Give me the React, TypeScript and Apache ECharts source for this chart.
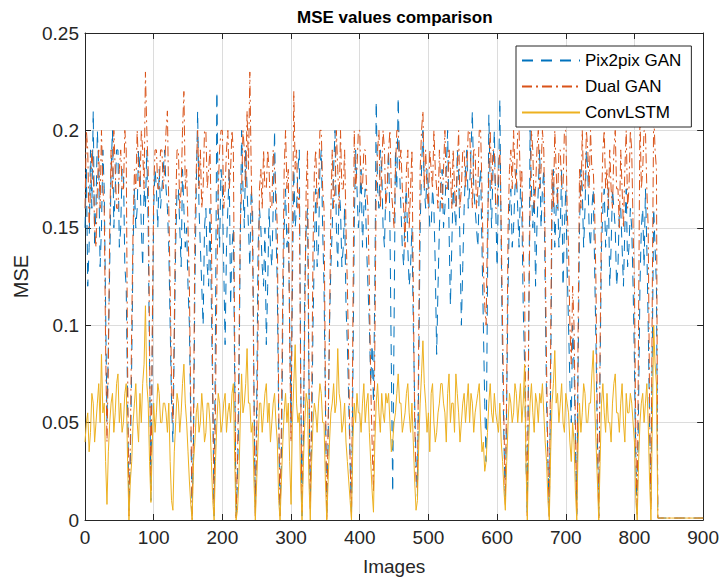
import React, { useEffect, useRef } from "react";
import * as echarts from "echarts";

// Sampled every STEP images (0, 2, 4, ... 900)
const STEP = 2;
const seriesNames = ["Pix2pix GAN", "Dual GAN", "ConvLSTM"];
const xTickMax = 900;
const yTickMax = 0.25;

const pix2pix = [
  0.15, 0.18, 0.12, 0.14, 0.19, 0.16, 0.21, 0.14, 0.16, 0.2, 0.18, 0.13, 0.15, 0.19, 0.17, 0.11, 0.05, 0.09, 0.13, 0.18,
  0.2, 0.15, 0.17, 0.19, 0.19, 0.14, 0.15, 0.18, 0.18, 0.13, 0.12, 0.06, 0.005, 0.03, 0.08, 0.14, 0.17, 0.15, 0.16, 0.19,
  0.18, 0.15, 0.13, 0.17, 0.16, 0.19, 0.15, 0.08, 0.01, 0.09, 0.16, 0.18, 0.17, 0.15, 0.18, 0.16, 0.17, 0.18, 0.19, 0.17,
  0.16, 0.14, 0.1, 0.06, 0.04, 0.09, 0.14, 0.17, 0.17, 0.15, 0.13, 0.18, 0.16, 0.14, 0.15, 0.12, 0.1, 0.05, 0.003, 0.04,
  0.12, 0.17, 0.21, 0.16, 0.14, 0.12, 0.1, 0.15, 0.16, 0.13, 0.12, 0.16, 0.11, 0.06, 0.002, 0.1, 0.22, 0.16, 0.14, 0.18,
  0.17, 0.13, 0.09, 0.14, 0.16, 0.18, 0.11, 0.14, 0.15, 0.07, 0.002, 0.02, 0.06, 0.14, 0.2, 0.17, 0.15, 0.19, 0.17, 0.15,
  0.13, 0.17, 0.16, 0.07, 0.003, 0.06, 0.14, 0.16, 0.15, 0.13, 0.12, 0.15, 0.09, 0.12, 0.16, 0.14, 0.13, 0.16, 0.2, 0.15,
  0.12, 0.05, 0.003, 0.03, 0.1, 0.15, 0.17, 0.14, 0.15, 0.1, 0.05, 0.12, 0.18, 0.15, 0.16, 0.18, 0.19, 0.08, 0.002, 0.04,
  0.12, 0.15, 0.16, 0.07, 0.01, 0.04, 0.1, 0.14, 0.17, 0.13, 0.14, 0.18, 0.19, 0.15, 0.12, 0.06, 0.002, 0.04, 0.1, 0.13,
  0.15, 0.18, 0.2, 0.15, 0.13, 0.17, 0.16, 0.13, 0.14, 0.16, 0.11, 0.09, 0.06, 0.03, 0.002, 0.07, 0.15, 0.19, 0.17, 0.15,
  0.16, 0.18, 0.14, 0.16, 0.17, 0.14, 0.12, 0.1, 0.07, 0.09, 0.06, 0.12, 0.215, 0.17, 0.16, 0.19, 0.18, 0.15, 0.14, 0.17,
  0.17, 0.19, 0.15, 0.08, 0.014, 0.1, 0.19, 0.17, 0.217, 0.18, 0.16, 0.14, 0.13, 0.16, 0.17, 0.14, 0.12, 0.13, 0.15, 0.1,
  0.06, 0.03, 0.012, 0.08, 0.15, 0.18, 0.2, 0.17, 0.16, 0.18, 0.17, 0.15, 0.15, 0.17, 0.16, 0.13, 0.085, 0.12, 0.15, 0.17,
  0.18, 0.15, 0.16, 0.18, 0.2, 0.15, 0.11, 0.14, 0.17, 0.16, 0.15, 0.19, 0.18, 0.14, 0.1, 0.13, 0.16, 0.18, 0.19, 0.16,
  0.17, 0.19, 0.21, 0.17, 0.16, 0.15, 0.14, 0.17, 0.18, 0.14, 0.1, 0.06, 0.03, 0.12, 0.208, 0.17, 0.15, 0.18, 0.2, 0.16,
  0.13, 0.17, 0.216, 0.14, 0.08, 0.04, 0.01, 0.06, 0.12, 0.16, 0.17, 0.14, 0.15, 0.17, 0.18, 0.16, 0.14, 0.17, 0.16, 0.11,
  0.08, 0.03, 0.002, 0.09, 0.2, 0.17, 0.15, 0.17, 0.12, 0.15, 0.17, 0.19, 0.15, 0.17, 0.18, 0.12, 0.06, 0.03, 0.002, 0.07,
  0.16, 0.18, 0.14, 0.16, 0.17, 0.14, 0.15, 0.18, 0.12, 0.15, 0.17, 0.13, 0.1, 0.07, 0.05, 0.1, 0.08, 0.04, 0.003, 0.08,
  0.15, 0.18, 0.17, 0.14, 0.16, 0.19, 0.18, 0.15, 0.14, 0.16, 0.17, 0.13, 0.09, 0.04, 0.002, 0.08, 0.14, 0.16, 0.17, 0.14,
  0.15, 0.17, 0.12, 0.14, 0.17, 0.16, 0.15, 0.12, 0.13, 0.16, 0.16, 0.14, 0.12, 0.15, 0.17, 0.13, 0.14, 0.16, 0.15, 0.12,
  0.08, 0.03, 0.002, 0.06, 0.12, 0.15, 0.16, 0.13, 0.17, 0.14, 0.1, 0.05, 0.01, 0.09, 0.16, 0.14, 0.12, 0.001,
  0.001, 0.001, 0.001, 0.001, 0.001, 0.001, 0.001, 0.001, 0.001, 0.001, 0.001, 0.001, 0.001, 0.001, 0.001, 0.001, 0.001,
  0.001, 0.001, 0.001, 0.001, 0.001, 0.001, 0.001, 0.001, 0.001, 0.001, 0.001, 0.001, 0.001, 0.001, 0.001, 0.001,
];

const dualGan = [
  0.16, 0.2, 0.19, 0.15, 0.17, 0.19, 0.18, 0.15, 0.14, 0.17, 0.19, 0.16, 0.2, 0.17, 0.16, 0.09, 0.04, 0.08, 0.15, 0.19,
  0.17, 0.2, 0.18, 0.16, 0.16, 0.18, 0.19, 0.17, 0.17, 0.2, 0.19, 0.08, 0.002, 0.04, 0.1, 0.15, 0.18, 0.17, 0.2, 0.18,
  0.17, 0.2, 0.19, 0.17, 0.23, 0.2, 0.18, 0.09, 0.015, 0.1, 0.17, 0.19, 0.19, 0.17, 0.17, 0.19, 0.19, 0.17, 0.18, 0.2,
  0.21, 0.16, 0.12, 0.07, 0.05, 0.1, 0.16, 0.19, 0.19, 0.16, 0.17, 0.2, 0.22, 0.17, 0.18, 0.15, 0.12, 0.06, 0.0, 0.05,
  0.15, 0.18, 0.2, 0.17, 0.19, 0.16, 0.17, 0.2, 0.2, 0.17, 0.18, 0.19, 0.15, 0.07, 0.003, 0.06, 0.12, 0.17, 0.19, 0.2,
  0.2, 0.16, 0.17, 0.19, 0.2, 0.17, 0.18, 0.2, 0.19, 0.09, 0.001, 0.03, 0.08, 0.15, 0.17, 0.2, 0.19, 0.17, 0.21, 0.18,
  0.23, 0.18, 0.14, 0.06, 0.001, 0.04, 0.1, 0.17, 0.18, 0.16, 0.19, 0.17, 0.17, 0.19, 0.18, 0.16, 0.16, 0.19, 0.18, 0.17,
  0.15, 0.06, 0.002, 0.05, 0.12, 0.18, 0.2, 0.17, 0.18, 0.09, 0.04, 0.14, 0.22, 0.18, 0.19, 0.16, 0.17, 0.07, 0.004, 0.05,
  0.1, 0.17, 0.19, 0.08, 0.005, 0.06, 0.14, 0.18, 0.19, 0.16, 0.17, 0.2, 0.2, 0.17, 0.16, 0.07, 0.0, 0.05, 0.1, 0.16,
  0.19, 0.16, 0.17, 0.2, 0.18, 0.16, 0.2, 0.17, 0.17, 0.19, 0.15, 0.12, 0.08, 0.03, 0.001, 0.1, 0.2, 0.17, 0.18, 0.2,
  0.2, 0.17, 0.17, 0.19, 0.19, 0.17, 0.16, 0.12, 0.07, 0.04, 0.014, 0.09, 0.17, 0.19, 0.2, 0.16, 0.18, 0.2, 0.19, 0.16,
  0.17, 0.19, 0.2, 0.17, 0.16, 0.15, 0.18, 0.2, 0.2, 0.18, 0.19, 0.17, 0.16, 0.14, 0.18, 0.19, 0.15, 0.17, 0.19, 0.12,
  0.05, 0.02, 0.015, 0.1, 0.18, 0.2, 0.21, 0.17, 0.19, 0.17, 0.16, 0.19, 0.18, 0.17, 0.2, 0.18, 0.17, 0.16, 0.19, 0.17,
  0.16, 0.18, 0.2, 0.17, 0.17, 0.19, 0.18, 0.16, 0.19, 0.17, 0.16, 0.18, 0.2, 0.16, 0.17, 0.19, 0.19, 0.17, 0.18, 0.2,
  0.2, 0.18, 0.16, 0.19, 0.19, 0.16, 0.17, 0.2, 0.2, 0.17, 0.13, 0.11, 0.1, 0.15, 0.18, 0.2, 0.17, 0.19, 0.19, 0.16,
  0.16, 0.18, 0.19, 0.15, 0.1, 0.05, 0.008, 0.07, 0.15, 0.18, 0.19, 0.17, 0.2, 0.18, 0.17, 0.2, 0.2, 0.17, 0.18, 0.14,
  0.12, 0.04, 0.002, 0.1, 0.16, 0.2, 0.19, 0.16, 0.17, 0.19, 0.2, 0.17, 0.18, 0.2, 0.19, 0.14, 0.08, 0.03, 0.001, 0.09,
  0.18, 0.16, 0.2, 0.18, 0.16, 0.19, 0.19, 0.17, 0.17, 0.2, 0.2, 0.16, 0.14, 0.1, 0.08, 0.12, 0.1, 0.05, 0.002, 0.1,
  0.18, 0.16, 0.2, 0.17, 0.17, 0.2, 0.19, 0.17, 0.2, 0.18, 0.18, 0.16, 0.12, 0.05, 0.001, 0.09, 0.16, 0.19, 0.2, 0.17,
  0.18, 0.16, 0.19, 0.17, 0.16, 0.19, 0.2, 0.17, 0.17, 0.15, 0.19, 0.17, 0.15, 0.18, 0.2, 0.16, 0.17, 0.2, 0.19, 0.15,
  0.12, 0.04, 0.003, 0.1, 0.21, 0.17, 0.18, 0.2, 0.2, 0.17, 0.15, 0.06, 0.005, 0.12, 0.21, 0.19, 0.18, 0.001,
  0.001, 0.001, 0.001, 0.001, 0.001, 0.001, 0.001, 0.001, 0.001, 0.001, 0.001, 0.001, 0.001, 0.001, 0.001, 0.001, 0.001,
  0.001, 0.001, 0.001, 0.001, 0.001, 0.001, 0.001, 0.001, 0.001, 0.001, 0.001, 0.001, 0.001, 0.001, 0.001, 0.001,
];

const convLstm = [
  0.04, 0.05, 0.055, 0.035, 0.045, 0.065, 0.06, 0.04, 0.05, 0.06, 0.07, 0.05, 0.085, 0.055, 0.06, 0.03, 0.008, 0.035, 0.05, 0.06,
  0.065, 0.045, 0.055, 0.07, 0.075, 0.05, 0.06, 0.045, 0.05, 0.065, 0.07, 0.03, 0.0, 0.02, 0.03, 0.05, 0.06, 0.07, 0.05, 0.04,
  0.065, 0.05, 0.07, 0.08, 0.11, 0.07, 0.06, 0.03, 0.009, 0.04, 0.06, 0.045, 0.055, 0.07, 0.065, 0.05, 0.05, 0.06, 0.06, 0.055,
  0.045, 0.06, 0.03, 0.01, 0.005, 0.035, 0.05, 0.065, 0.06, 0.045, 0.055, 0.07, 0.08, 0.06, 0.05, 0.035, 0.02, 0.008, 0.0, 0.03,
  0.04, 0.055, 0.06, 0.045, 0.05, 0.065, 0.055, 0.04, 0.045, 0.06, 0.06, 0.05, 0.03, 0.01, 0.0, 0.03, 0.05, 0.065, 0.06, 0.045,
  0.05, 0.06, 0.065, 0.045, 0.055, 0.06, 0.05, 0.065, 0.07, 0.03, 0.0, 0.005, 0.02, 0.05, 0.075, 0.055, 0.06, 0.07, 0.088, 0.06,
  0.06, 0.045, 0.05, 0.02, 0.0, 0.02, 0.04, 0.06, 0.06, 0.045, 0.055, 0.065, 0.07, 0.05, 0.06, 0.04, 0.05, 0.06, 0.065, 0.05,
  0.04, 0.01, 0.0, 0.02, 0.04, 0.055, 0.065, 0.05, 0.06, 0.03, 0.008, 0.05, 0.07, 0.09, 0.06, 0.05, 0.055, 0.02, 0.0, 0.03,
  0.05, 0.065, 0.06, 0.02, 0.0, 0.03, 0.05, 0.06, 0.055, 0.045, 0.06, 0.07, 0.065, 0.05, 0.05, 0.02, 0.0, 0.02, 0.04, 0.055,
  0.06, 0.07, 0.055, 0.06, 0.088, 0.065, 0.06, 0.045, 0.05, 0.06, 0.04, 0.03, 0.02, 0.01, 0.0, 0.04, 0.06, 0.05, 0.065, 0.055,
  0.055, 0.045, 0.06, 0.07, 0.05, 0.06, 0.065, 0.045, 0.03, 0.015, 0.004, 0.04, 0.06, 0.07, 0.055, 0.045, 0.065, 0.055, 0.05, 0.065,
  0.06, 0.065, 0.05, 0.035, 0.04, 0.05, 0.055, 0.065, 0.075, 0.06, 0.06, 0.045, 0.05, 0.055, 0.065, 0.07, 0.055, 0.045, 0.06, 0.04,
  0.02, 0.005, 0.01, 0.04, 0.06, 0.075, 0.092, 0.07, 0.06, 0.045, 0.055, 0.035, 0.065, 0.07, 0.05, 0.04, 0.045, 0.055, 0.06, 0.07,
  0.07, 0.06, 0.055, 0.04, 0.065, 0.075, 0.05, 0.06, 0.06, 0.045, 0.075, 0.065, 0.055, 0.04, 0.05, 0.06, 0.065, 0.05, 0.06, 0.07,
  0.05, 0.065, 0.06, 0.045, 0.055, 0.06, 0.065, 0.07, 0.05, 0.035, 0.04, 0.025, 0.03, 0.045, 0.06, 0.07, 0.055, 0.05, 0.065, 0.055,
  0.05, 0.045, 0.06, 0.04, 0.03, 0.015, 0.005, 0.03, 0.05, 0.065, 0.06, 0.05, 0.055, 0.07, 0.065, 0.05, 0.06, 0.07, 0.05, 0.06,
  0.08, 0.03, 0.0, 0.04, 0.06, 0.07, 0.055, 0.045, 0.065, 0.06, 0.05, 0.065, 0.06, 0.07, 0.055, 0.04, 0.03, 0.01, 0.0, 0.035,
  0.06, 0.07, 0.087, 0.06, 0.065, 0.05, 0.06, 0.07, 0.05, 0.045, 0.065, 0.06, 0.055, 0.04, 0.03, 0.05, 0.04, 0.015, 0.0, 0.04,
  0.06, 0.045, 0.055, 0.07, 0.065, 0.05, 0.05, 0.06, 0.06, 0.075, 0.087, 0.06, 0.04, 0.02, 0.0, 0.03, 0.06, 0.07, 0.055, 0.045,
  0.065, 0.05, 0.05, 0.04, 0.06, 0.07, 0.075, 0.055, 0.055, 0.045, 0.06, 0.07, 0.05, 0.04, 0.065, 0.055, 0.055, 0.065, 0.06, 0.05,
  0.04, 0.01, 0.0, 0.03, 0.05, 0.06, 0.065, 0.05, 0.06, 0.07, 0.05, 0.02, 0.0, 0.05, 0.1, 0.08, 0.07, 0.001,
  0.001, 0.001, 0.001, 0.001, 0.001, 0.001, 0.001, 0.001, 0.001, 0.001, 0.001, 0.001, 0.001, 0.001, 0.001, 0.001, 0.001,
  0.001, 0.001, 0.001, 0.001, 0.001, 0.001, 0.001, 0.001, 0.001, 0.001, 0.001, 0.001, 0.001, 0.001, 0.001, 0.001,
];

const colors = ["#0072BD", "#D95319", "#EDB120"];
const dashes: any[] = [[11, 8], [10, 4, 2, 4], "solid"];
const FONT = "'Liberation Sans', Arial, Helvetica, sans-serif";
const AX = "#262626";

export default function App() {
  const ref = useRef<HTMLDivElement>(null);
  useEffect(() => {
    if (!ref.current) return;
    const chart = echarts.init(ref.current, null, { renderer: "svg" });
    const toPairs = (vals: number[]) => vals.map((v, i) => [i * STEP, v]);
    const allSeries = [pix2pix, dualGan, convLstm];
    const frameAxis = {
      axisLine: { show: true, onZero: false, lineStyle: { color: AX, width: 1 } },
      axisTick: { show: true, inside: true, length: 6, lineStyle: { color: AX } },
      axisLabel: { show: false },
      splitLine: { show: false },
    };
    chart.setOption({
      animation: false,
      backgroundColor: "#ffffff",
      textStyle: { fontFamily: FONT },
      title: {
        text: "MSE values comparison",
        left: 292,
        top: 4,
        textStyle: { fontSize: 17, fontWeight: "bold", color: "#000", fontFamily: FONT },
      },
      grid: { left: 85, right: 18, top: 33, bottom: 68, containLabel: false },
      legend: {
        orient: "vertical",
        left: 516,
        top: 46,
        padding: [6, 10, 6, 5],
        itemWidth: 58,
        itemHeight: 16,
        itemGap: 9,
        backgroundColor: "#fff",
        borderColor: AX,
        borderWidth: 1,
        itemStyle: { opacity: 0 },
        textStyle: { fontSize: 17, color: "#000", fontFamily: FONT },
        data: seriesNames,
      },
      xAxis: [
        {
          type: "value",
          min: 0,
          max: xTickMax,
          interval: 100,
          name: "Images",
          nameLocation: "middle",
          nameGap: 37,
          nameTextStyle: { fontSize: 19, color: AX, fontFamily: FONT },
          axisLine: { show: true, onZero: false, lineStyle: { color: AX, width: 1 } },
          axisTick: { show: true, inside: true, length: 6, lineStyle: { color: AX } },
          axisLabel: { fontSize: 19, color: AX, margin: 8, fontFamily: FONT },
          splitLine: { show: true, lineStyle: { color: "#dcdcdc", width: 1 } },
        },
        { type: "value", position: "top", min: 0, max: xTickMax, interval: 100, ...frameAxis },
      ],
      yAxis: [
        {
          type: "value",
          min: 0,
          max: yTickMax,
          interval: 0.05,
          name: "MSE",
          nameLocation: "middle",
          nameGap: 52,
          nameTextStyle: { fontSize: 20, color: AX, fontFamily: FONT },
          axisLine: { show: true, onZero: false, lineStyle: { color: AX, width: 1 } },
          axisTick: { show: true, inside: true, length: 6, lineStyle: { color: AX } },
          axisLabel: { fontSize: 19, color: AX, margin: 6, fontFamily: FONT },
          splitLine: { show: true, lineStyle: { color: "#dcdcdc", width: 1 } },
        },
        { type: "value", position: "right", min: 0, max: yTickMax, interval: 0.05, ...frameAxis },
      ],
      series: allSeries.map((vals, k) => ({
        name: seriesNames[k],
        type: "line",
        xAxisIndex: 0,
        yAxisIndex: 0,
        data: toPairs(vals),
        symbol: "none",
        showSymbol: false,
        lineStyle: { color: colors[k], width: 1, type: dashes[k] },
        itemStyle: { color: colors[k] },
        z: 2 + k,
      })),
    });
    return () => chart.dispose();
  }, []);
  return (
    <div
      ref={ref}
      style={{ position: "fixed", left: 0, top: 0, width: 722, height: 588 }}
    />
  );
}
